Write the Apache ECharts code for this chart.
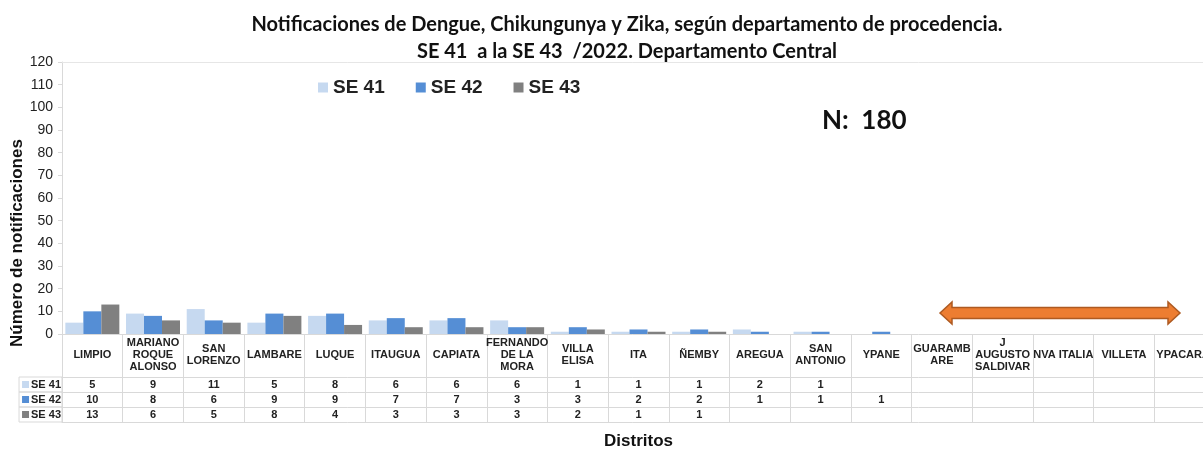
<!DOCTYPE html>
<html>
<head>
<meta charset="utf-8">
<script src="https://cdn.jsdelivr.net/npm/echarts@6/dist/echarts.min.js"></script>
<style>html,body{margin:0;padding:0;background:#fff}#c{width:1203px;height:450px}</style>
</head>
<body>
<div id="c"></div>
<script>
const categories = ['LIMPIO','MARIANO\nROQUE\nALONSO','SAN\nLORENZO','LAMBARE','LUQUE','ITAUGUA','CAPIATA','FERNANDO\nDE LA\nMORA','VILLA\nELISA','ITA','ÑEMBY','AREGUA','SAN\nANTONIO','YPANE','GUARAMB\nARE','J\nAUGUSTO\nSALDIVAR','NVA ITALIA','VILLETA','YPACARAI'];
const se41 = [5,9,11,5,8,6,6,6,1,1,1,2,1,null,null,null,null,null,null];
const se42 = [10,8,6,9,9,7,7,3,3,2,2,1,1,1,null,null,null,null,null];
const se43 = [13,6,5,8,4,3,3,3,2,1,1,null,null,null,null,null,null,null,null];
const seriesNames = ['SE 41','SE 42','SE 43'];
const colors = ['#c6d9f0','#558ed5','#808080'];
const yTicks = {min:0, max:120, interval:10};
const titleLines = ['Notificaciones de Dengue, Chikungunya y Zika, según departamento de procedencia.','SE 41  a la SE 43  /2022. Departamento Central'];
const nText = 'N:  180';

const F = '"Liberation Sans", Arial, sans-serif';
const TF = 'Lato, "Open Sans", sans-serif';
const gridCol = '#d9d9d9';
const rows = [se41, se42, se43];

const chart = echarts.init(document.getElementById('c'));

const rowAxes = rows.map((arr, i) => ({
  type:'category', data:categories, position:'bottom', offset:43 + 15*i,
  axisLine:{show:true, lineStyle:{color:gridCol}},
  axisTick:{show:false},
  axisLabel:{interval:0, margin:7.5, verticalAlign:'middle', fontFamily:F, fontWeight:'bold', fontSize:11, color:'#222',
    formatter:(v, idx) => (arr[idx] == null ? '' : String(arr[idx]))},
  name:'{k| }{t|' + seriesNames[i] + '}', nameLocation:'start', nameGap:0, nameMoveOverlap:false,
  nameTextStyle:{align:'right', verticalAlign:'top', width:33, height:15, lineHeight:15, padding:[0,1,0,3],
    borderColor:gridCol, borderWidth:1,
    rich:{k:{width:7, height:7, backgroundColor:colors[i]}, t:{fontFamily:F, fontWeight:'bold', fontSize:11, color:'#222', padding:[0,0,0,2]}}}
}));

const option = {
  animation:false,
  title:[{text:titleLines.join('\n'), left:622, top:6, textAlign:'center',
    textStyle:{fontFamily:TF, fontWeight:'bold', fontSize:20, lineHeight:27, color:'#111'}}],
  legend:{data:seriesNames, left:313, top:73, itemWidth:10, itemHeight:10, itemGap:31, icon:'rect',
    textStyle:{fontFamily:F, fontWeight:'bold', fontSize:19, color:'#222'}},
  grid:{left:62, right:-12, top:62, bottom:116, outerBoundsMode:'none', containLabel:false},
  xAxis:[
    {type:'category', data:categories, position:'bottom',
      axisLine:{show:true, lineStyle:{color:gridCol}},
      axisTick:{show:true, interval:0, length:88, lineStyle:{color:gridCol}},
      axisLabel:{interval:0, margin:21, verticalAlign:'middle', lineHeight:12, fontFamily:F, fontWeight:'bold', fontSize:11, color:'#222'},
      name:'Distritos', nameLocation:'middle', nameGap:99, nameMoveOverlap:false,
      nameTextStyle:{fontFamily:F, fontWeight:'bold', fontSize:17, color:'#111', verticalAlign:'top'}},
    ...rowAxes,
    {type:'category', data:categories, position:'bottom', offset:88,
      axisLine:{show:true, lineStyle:{color:gridCol}}, axisTick:{show:false}, axisLabel:{show:false}},
    {type:'category', data:categories, position:'top',
      axisLine:{show:true, lineStyle:{color:'#e6e6e6'}}, axisTick:{show:false}, axisLabel:{show:false}}
  ],
  yAxis:{type:'value', min:yTicks.min, max:yTicks.max, interval:yTicks.interval,
    axisLine:{show:true, lineStyle:{color:gridCol}},
    axisTick:{show:true, length:4, lineStyle:{color:gridCol}},
    splitLine:{show:false},
    axisLabel:{margin:9, fontFamily:F, fontSize:14, color:'#222'}},
  series: rows.map((arr, i) => ({
    name:seriesNames[i], type:'bar', data:arr, barWidth:18, barGap:'0%',
    itemStyle:{color:colors[i]}
  })),
  graphic:[
    {type:'text', x:17, y:243, rotation:Math.PI/2,
      style:{text:'Número de notificaciones', fontFamily:F, fontWeight:'bold', fontSize:17, fill:'#111', align:'center', verticalAlign:'middle'}},
    {type:'text', x:822, y:121,
      style:{text:nText, fontFamily:TF, fontWeight:'bold', fontSize:26, fill:'#111', align:'left', verticalAlign:'middle'}},
    {type:'polygon', shape:{points:[[940,313],[952,302],[952,307.5],[1168,307.5],[1168,302],[1180,313],[1168,324],[1168,318.5],[952,318.5],[952,324]]},
      style:{fill:'#ed7d31', stroke:'#ae5a21', lineWidth:1.5}}
  ]
};
chart.setOption(option);
</script>
</body>
</html>
